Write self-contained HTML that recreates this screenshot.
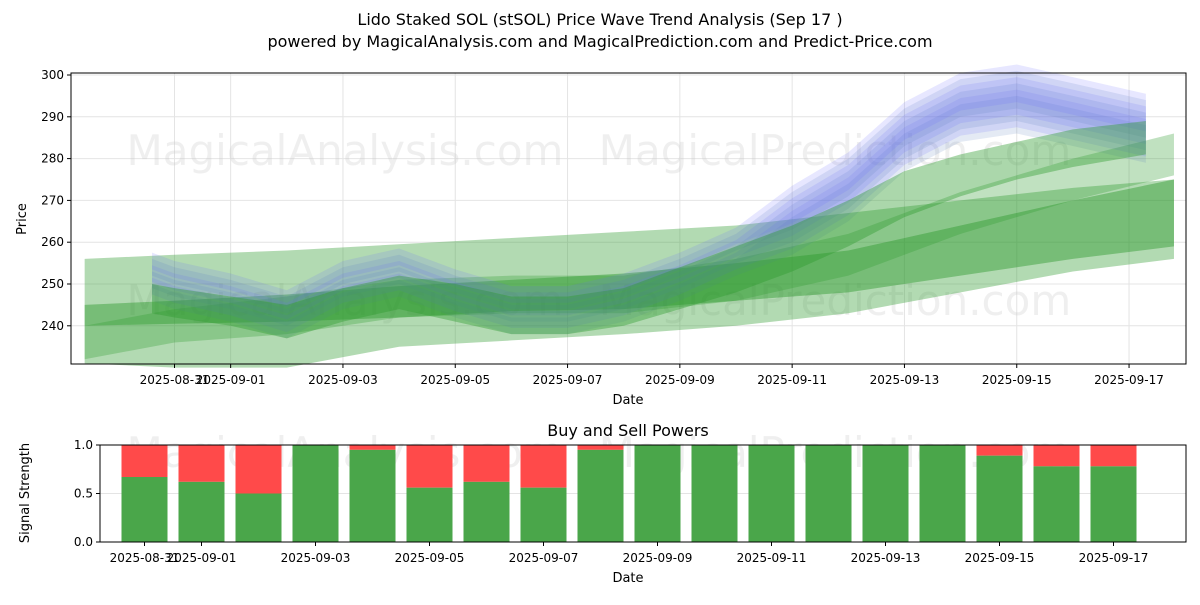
<!DOCTYPE html>
<html><head><meta charset="utf-8"><style>
body{margin:0;background:#fff;width:1200px;height:600px;overflow:hidden;font-family:"Liberation Sans","DejaVu Sans",sans-serif}
svg text{font-family:"DejaVu Sans","Liberation Sans",sans-serif;fill:#000}
</style></head><body>
<svg id="chart" width="1200" height="600" xmlns="http://www.w3.org/2000/svg">
<text x="600" y="25" text-anchor="middle" font-size="16">Lido Staked SOL (stSOL) Price Wave Trend Analysis (Sep 17 )</text>
<text x="600" y="47" text-anchor="middle" font-size="16">powered by MagicalAnalysis.com and MagicalPrediction.com and Predict-Price.com</text>
<g id="topPanel"></g>
<g id="botPanel"></g>
</svg>
<script>
const tickDays=[0,1,3,5,7,9,11,13,15,17];
const tickLabels=["2025-08-31","2025-09-01","2025-09-03","2025-09-05","2025-09-07","2025-09-09","2025-09-11","2025-09-13","2025-09-15","2025-09-17"];
const priceTicks=[240,250,260,270,280,290,300];
const waveDays=[-0.4,0,1,2,3,4,5,6,7,8,9,10,11,12,13,14,15,16,17.3];
const waveMain=[251,249,246,242,249,252,247,243,243,246,251,257,265,273,285,292,294,291,287];
const waveOffsets=[-3,-1.5,0,1.5,3,4.5];
const greenU=[250,249,247,245,249,252,250,247,247,249,254,259,264,270,277,281,284,287,289];
const greenL=[243,242,240,237,241,244,241,238,238,240,244,248,253,259,266,271,275,278,281];
const bandDays=[-1.6,0,2,4,6,8,10,12,14,16,17.8];
const bandAU=[256,257,258,259.5,261,262.5,264,267,270,273,275];
const bandAL=[231,230,230,235,236.5,238,240,243,248,253,256];
const bandBU=[245,246,247.5,249.5,251,252.5,255,258,264,270,275];
const bandBL=[240,240.5,241,242,243.5,244,246,248,252,256,259];
const bandCU=[240,244,247,251,252,252,256,262,272,280,286];
const bandCL=[232,236,238,242,243,243,246,252,262,270,276];
const buyVals=[0.67,0.62,0.50,1.0,0.95,0.56,0.62,0.56,0.95,1,1,1,1,1,1,0.89,0.78,0.78];
const sigTicks=[0,0.5,1.0];

const NS="http://www.w3.org/2000/svg";
function mk(p,t,a){const e=document.createElementNS(NS,t);for(const k in a)e.setAttribute(k,a[k]);p.appendChild(e);return e;}
const topG=document.getElementById('topPanel'),botG=document.getElementById('botPanel');
const X0=71,X1=1186,Y0=73,Y1=364;
const xT=d=>174.5+d*56.15;
const yT=v=>116.8+(290-v)*4.18;
tickDays.forEach((d,i)=>{const l=mk(topG,'line',{x1:xT(d),x2:xT(d),y1:Y0,y2:Y1,stroke:'#e4e4e4','stroke-width':1});

});
priceTicks.forEach(v=>{const l=mk(topG,'line',{x1:X0,x2:X1,y1:yT(v),y2:yT(v),stroke:'#e4e4e4'});

});
[[345,150],[835,150],[345,300],[835,300]].forEach((p,i)=>{const t=mk(topG,'text',{x:p[0],y:p[1]+15,'text-anchor':'middle','font-size':42,style:'fill:#ccc;opacity:0.3'});
t.textContent=i%2?'MagicalPrediction.com':'MagicalAnalysis.com';

});
function band(days,up,lo,fill,op){let d='';days.forEach((x,i)=>d+=(i?'L':'M')+xT(x)+','+yT(up[i]));
for(let i=days.length-1;i>=0;i--)d+='L'+xT(days[i])+','+yT(lo[i]);
const p=mk(topG,'path',{d:d+'Z',fill:fill,'fill-opacity':op});

}
band(bandDays,bandAU,bandAL,'#2e9a2e',0.37);
band(bandDays,bandBU,bandBL,'#2e9a2e',0.45);
band(bandDays,bandCU,bandCL,'#2e9a2e',0.3);
waveOffsets.forEach((o,k)=>{const up=waveMain.map((v,i)=>v+o+2+(i>11?2:0)),lo=waveMain.map((v,i)=>v+o-2-(i>11?3:0));
band(waveDays,up,lo,k%2?'#6a6aff':'#5a7aba',0.16);});
band(waveDays,greenU,greenL,'#2e9a2e',0.4);
mk(topG,'rect',{x:X0,y:Y0,width:X1-X0,height:Y1-Y0,fill:'none',stroke:'#000','stroke-width':1});
tickDays.forEach((d,i)=>{mk(topG,'line',{x1:xT(d),x2:xT(d),y1:Y1,y2:Y1+4,stroke:'#000'});
const t=mk(topG,'text',{x:xT(d),y:Y1+20,'text-anchor':'middle','font-size':12});t.textContent=tickLabels[i];

});
priceTicks.forEach(v=>{mk(topG,'line',{x1:X0-4,x2:X0,y1:yT(v),y2:yT(v),stroke:'#000'});
const t=mk(topG,'text',{x:X0-7,y:yT(v)+4,'text-anchor':'end','font-size':12});t.textContent=v;

});
let t=mk(topG,'text',{x:628,y:404,'text-anchor':'middle','font-size':13});t.textContent='Date';


t=mk(topG,'text',{x:26,y:219,'text-anchor':'middle','font-size':13,transform:'rotate(-90 26 219)'});t.textContent='Price';



const BX0=100,BX1=1186,BY0=445,BY1=542;
const xB=d=>144.5+d*57.0;
const yB=v=>BY1-v*(BY1-BY0);
sigTicks.forEach(v=>{const l=mk(botG,'line',{x1:BX0,x2:BX1,y1:yB(v),y2:yB(v),stroke:'#e4e4e4'});

});
[[345,452],[835,452]].forEach((p,i)=>{const w=mk(botG,'text',{x:p[0],y:p[1]+15,'text-anchor':'middle','font-size':42,style:'fill:#ccc;opacity:0.3'});
w.textContent=i?'MagicalPrediction.com':'MagicalAnalysis.com';

});
buyVals.forEach((v,i)=>{const x=xB(i)-23;
const r=mk(botG,'rect',{x:x,y:yB(1),width:46,height:yB(v)-yB(1),fill:'#ff4a4a'});


const g=mk(botG,'rect',{x:x,y:yB(v),width:46,height:yB(0)-yB(v),fill:'#4aa64a'});

});
mk(botG,'rect',{x:BX0,y:BY0,width:BX1-BX0,height:BY1-BY0,fill:'none',stroke:'#000'});
tickDays.forEach((d,i)=>{mk(botG,'line',{x1:xB(d),x2:xB(d),y1:BY1,y2:BY1+4,stroke:'#000'});
const s=mk(botG,'text',{x:xB(d),y:BY1+20,'text-anchor':'middle','font-size':12});s.textContent=tickLabels[i];

});
sigTicks.forEach(v=>{mk(botG,'line',{x1:BX0-4,x2:BX0,y1:yB(v),y2:yB(v),stroke:'#000'});
const s=mk(botG,'text',{x:BX0-7,y:yB(v)+4,'text-anchor':'end','font-size':12});s.textContent=v.toFixed(1);

});
t=mk(botG,'text',{x:628,y:436,'text-anchor':'middle','font-size':16});t.textContent='Buy and Sell Powers';


t=mk(botG,'text',{x:628,y:582,'text-anchor':'middle','font-size':13});t.textContent='Date';


t=mk(botG,'text',{x:29,y:493,'text-anchor':'middle','font-size':13,transform:'rotate(-90 29 493)'});t.textContent='Signal Strength';


</script>
</body></html>
